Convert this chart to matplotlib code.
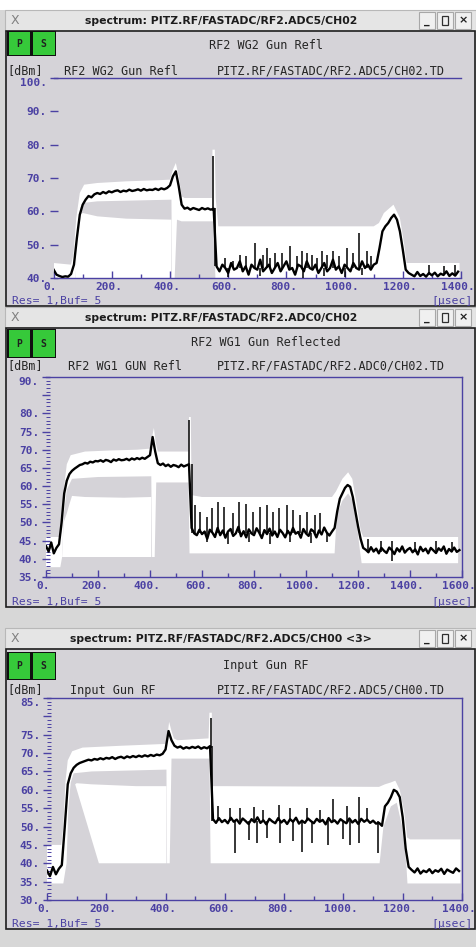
import numpy as np
import matplotlib.pyplot as plt
from matplotlib.patches import Rectangle
from matplotlib.transforms import ScaledTranslation

# ---------------- data ----------------
# black traces, one sample every 10 usec
p1_t = np.arange(0, 1400, 10)
p1_y = [42.5, 41.0, 40.6, 40.3, 40.5, 40.4, 41.2, 44.0, 52.0, 59.0,
        62.0, 63.5, 64.6, 64.2, 65.1, 65.5, 65.2, 65.8, 65.4, 66.0,
        65.7, 66.1, 66.3, 65.8, 66.2, 66.0, 66.5, 66.1, 66.3, 66.6,
        66.2, 66.7, 66.3, 66.5, 66.4, 66.8, 66.4, 66.9, 66.6, 67.0,
        67.8, 70.5, 72.0, 67.5, 62.0, 60.8, 61.1, 60.5, 61.0, 60.7,
        60.4, 61.0, 60.6, 60.9, 60.5, 60.8, 43.5, 42.0, 44.0, 43.0,
        41.5, 44.5, 42.5, 43.0, 45.0, 42.0, 43.5, 41.0, 44.0, 43.0,
        42.5, 45.5, 42.0, 43.0, 44.0, 41.5, 43.0, 44.5, 42.0, 43.5,
        45.0, 42.5, 43.0, 41.0, 44.0, 43.5, 42.0, 45.0, 43.0, 42.5,
        44.0, 41.5, 43.0, 44.5, 42.0, 43.0, 45.5, 42.5, 43.5, 41.5,
        44.0, 43.0, 42.0, 44.5, 43.0, 42.5, 45.0, 43.0, 44.0, 42.5,
        44.0, 44.5, 49.0, 54.0, 55.5, 56.5, 58.0, 59.0, 57.5, 54.0,
        48.5, 42.5, 41.5, 41.0, 40.5, 41.8, 40.6, 41.2, 40.4, 41.5,
        40.8, 41.6, 40.5, 41.3, 40.9, 42.0, 40.6, 41.4, 40.7, 41.9]

p2_t = np.arange(0, 1600, 10)
p2_y = [43.5, 42.0, 44.5, 41.5, 43.0, 44.0, 50.0, 58.0, 61.5, 63.3,
        64.2, 64.8, 65.3, 65.8, 66.0, 66.4, 66.2, 66.7, 66.5, 66.9,
        66.8, 67.1, 66.7, 67.2, 67.0, 66.6, 67.3, 67.0, 67.4, 67.1,
        67.2, 67.5, 67.1, 67.6, 67.3, 67.7, 67.4, 67.8, 67.5, 68.0,
        68.5, 73.5, 69.5, 66.3, 65.8, 66.2, 65.5, 65.9, 65.3, 65.8,
        65.6, 65.2, 65.9, 65.4, 65.7, 66.0, 48.5, 47.0, 46.5, 48.0,
        46.8, 47.5, 45.5, 48.0, 47.2, 46.0, 48.5, 46.5, 47.8, 45.8,
        47.5, 48.2, 46.3, 47.0, 48.8, 46.2, 47.6, 45.9, 48.1, 47.0,
        46.5, 48.4, 47.2, 45.7, 47.9, 46.8, 48.3, 46.4, 47.5, 46.0,
        48.0, 47.1, 45.9, 47.7, 46.6, 48.5, 46.9, 47.4, 45.8, 48.2,
        47.0, 46.3, 48.1, 47.5, 45.9, 47.8, 46.7, 48.6, 47.2, 46.4,
        47.5, 48.5, 53.0, 56.5, 58.0, 59.5, 60.3, 59.8, 57.0, 53.0,
        49.0, 45.5, 43.0, 42.5, 41.8, 43.2, 42.0, 42.8, 41.5, 43.0,
        42.2, 41.6, 43.1, 42.4, 41.3, 42.9, 42.0, 43.4, 41.7, 42.5,
        43.0, 41.8, 42.6, 41.2, 43.3, 42.1, 42.8, 41.5, 43.0, 42.3,
        41.6, 42.9, 42.2, 43.4, 41.4, 42.7, 42.0, 43.1, 41.9, 42.4]

p3_t = np.arange(0, 1400, 10)
p3_y = [38.0, 36.5, 39.0, 37.0, 38.5, 39.5, 50.0, 61.5, 64.5, 66.0,
        66.8, 67.3, 67.6, 67.9, 68.2, 68.0, 68.4, 68.2, 68.6, 68.3,
        68.7, 68.5, 68.9, 68.4, 68.8, 69.0, 68.6, 69.1, 68.8, 69.2,
        68.9, 69.3, 69.0, 69.4, 69.1, 69.5, 69.2, 69.6, 69.4, 69.8,
        71.0, 76.0, 73.5, 72.0, 71.5, 71.8, 71.2, 71.6, 71.3, 71.7,
        71.4, 71.8, 71.2, 71.6, 71.3, 71.9, 52.0, 51.0, 52.3, 51.2,
        51.8, 50.9, 52.4, 51.3, 51.9, 50.8, 52.2, 51.5, 50.7, 52.0,
        51.2, 52.5, 51.0, 51.7, 50.6, 52.1, 51.4, 50.9, 52.3, 51.1,
        51.8, 50.7, 52.0, 51.3, 52.4, 50.8, 51.6, 51.0, 52.2, 51.5,
        50.9, 52.1, 51.3, 51.8, 50.6, 52.3, 51.2, 51.7, 50.8, 52.0,
        51.4, 50.9, 52.2, 51.1, 51.8, 50.7, 52.1, 51.3, 51.9, 51.0,
        51.6, 50.8, 51.0, 50.2, 55.5, 56.5, 58.0, 60.0, 59.5, 58.0,
        52.5, 44.0, 39.0, 38.2, 37.5, 38.6, 37.2, 38.0, 37.6, 38.4,
        37.3, 38.1, 37.7, 38.5, 37.1, 38.3, 37.8, 37.4, 38.6, 37.9]

# single-sample spikes: time, low end, high end
p1_spk_t = [548, 556, 590, 600, 617, 640, 660, 692, 710, 720, 732, 745, 760, 785,
            812, 835, 852, 858, 870, 887, 905, 921, 930, 940, 961, 980, 1000, 1007,
            1030, 1051, 1060, 1076, 1090, 1290, 1340, 1380]
p1_spk_lo = [60.0, 43.5, 43.0, 40.3, 43.0, 43.0, 43.0, 43.0, 40.5, 43.0, 43.0, 43.0,
             43.0, 43.0, 43.0, 43.0, 43.0, 40.0, 43.0, 43.0, 43.0, 43.0, 40.5, 43.0,
             43.0, 43.0, 40.3, 43.0, 43.0, 43.0, 40.8, 43.0, 43.0, 41.0, 41.0, 41.0]
p1_spk_hi = [76.5, 61.0, 46.0, 43.0, 45.0, 47.0, 46.5, 50.4, 43.0, 47.0, 49.0, 46.0,
             47.5, 47.5, 49.5, 46.5, 48.0, 43.0, 47.5, 47.0, 46.0, 48.0, 43.0, 47.0,
             48.0, 46.5, 43.0, 49.0, 47.5, 53.4, 43.0, 48.0, 46.5, 44.0, 43.5, 44.0]

p2_spk_t = [551, 561, 573, 592, 618, 620, 637, 663, 685, 700, 721, 744, 769, 780,
            797, 823, 849, 860, 874, 897, 926, 940, 951, 977, 1003, 1020, 1035, 1054,
            1080, 1240, 1290, 1330, 1420, 1500, 1560]
p2_spk_lo = [65.5, 47.0, 47.0, 47.0, 47.0, 44.5, 47.0, 47.0, 47.0, 44.0, 47.0, 47.0,
             47.0, 44.5, 47.0, 47.0, 47.0, 44.2, 47.0, 47.0, 47.0, 44.5, 47.0, 47.0,
             47.0, 44.3, 47.0, 47.0, 44.6, 42.0, 42.0, 39.5, 42.0, 42.0, 42.0]
p2_spk_hi = [78.2, 66.0, 54.8, 52.9, 51.6, 47.0, 53.9, 55.7, 54.3, 47.0, 52.5, 55.7,
             55.2, 47.0, 53.0, 54.3, 54.8, 47.0, 53.0, 53.9, 54.8, 47.0, 53.4, 52.1,
             53.0, 47.0, 52.1, 52.5, 47.0, 45.5, 44.8, 45.0, 44.5, 45.0, 44.5]

p3_spk_t = [552, 557, 578, 618, 634, 652, 680, 697, 708, 730, 741, 781, 786, 820,
            831, 859, 876, 893, 921, 949, 966, 1000, 1011, 1023, 1051, 1079, 1118]
p3_spk_lo = [71.5, 51.5, 51.5, 51.5, 42.7, 51.5, 46.3, 51.5, 45.5, 51.5, 47.0, 51.5,
             45.5, 51.5, 46.0, 43.2, 51.5, 45.5, 51.5, 45.0, 51.5, 46.5, 51.5, 45.0,
             45.5, 51.5, 42.7]
p3_spk_hi = [79.5, 72.0, 55.6, 55.0, 51.5, 55.0, 51.5, 55.3, 51.5, 54.5, 51.5, 56.0,
             51.5, 55.0, 51.5, 51.5, 55.0, 51.5, 54.5, 51.5, 57.5, 51.5, 55.5, 51.5,
             58.0, 55.0, 51.5]

# white persistence area: upper and lower outline of each region
p1_a_up_t = [0, 60, 68, 78, 90, 105, 150, 250, 350, 400, 410, 420, 430, 440, 450, 544,
             546, 554, 557, 566, 1100, 1118, 1135, 1168, 1190, 1205, 1213, 1395]
p1_a_up_y = [44.5, 44, 47, 58, 65.5, 68, 68.5, 69, 69.3, 69.5, 72.5, 74.5, 70.5, 64.5,
             64, 64, 78.5, 78.5, 64, 55.5, 55.5, 56.5, 59.5, 62, 58, 50, 44.5, 44.5]
p1_a_lo_t = [0, 75, 92, 100, 150, 405, 407, 416, 424, 440, 550, 556, 1395]
p1_a_lo_y = [40, 40, 61, 62.5, 63, 63.5, 40, 40, 57.5, 57, 57, 40, 40]
p1_b_up_t = [75, 82, 90, 100, 150, 250, 405]
p1_b_up_y = [40, 52, 59, 59.5, 58.5, 57.8, 57.5]
p1_b_lo_t = [75, 405]
p1_b_lo_y = [40, 40]

p2_a_up_t = [0, 55, 62, 70, 80, 95, 150, 250, 350, 400, 408, 415, 422, 430, 548, 550,
             557, 560, 600, 1100, 1115, 1140, 1162, 1178, 1195, 1210, 1220, 1585]
p2_a_up_y = [46, 46, 48, 60, 66, 68.5, 69.5, 69.8, 70, 70.3, 73.5, 76, 72, 69.5, 69.5,
             79, 79, 57.5, 57, 57, 58.5, 62, 63.8, 62, 55, 48, 46, 46]
p2_a_lo_t = [0, 55, 62, 68, 80, 100, 200, 405, 408, 418, 424, 548, 552, 1110, 1118,
             1140, 1162, 1180, 1198, 1208, 1214, 1585]
p2_a_lo_y = [37.7, 37.7, 40.5, 52, 59, 62, 62.5, 62.7, 40.5, 40.5, 61, 61, 41.5, 41.5,
             52, 56, 58, 56, 48, 42, 38.8, 38.8]
p2_b_up_t = [62, 68, 80, 90, 100, 150, 300, 405]
p2_b_up_y = [40.5, 50, 52.5, 55, 57.3, 57, 56.8, 57]
p2_b_lo_t = [62, 405]
p2_b_lo_y = [40.5, 40.5]

p3_a_up_t = [0, 48, 55, 62, 70, 85, 120, 250, 400, 405, 412, 420, 428, 440, 545, 548,
             556, 559, 600, 1120, 1140, 1160, 1175, 1190, 1205, 1215, 1225, 1395]
p3_a_up_y = [45, 45, 50, 62, 68, 70.5, 71.5, 72, 72.5, 74, 78.5, 76, 74, 73.5, 74, 81,
             81, 61, 61, 60.8, 61.5, 62, 62.5, 60, 54, 47, 46.5, 46.5]
p3_a_lo_t = [0, 55, 66, 72, 80, 90, 150, 400, 403, 405, 414, 420, 548, 552, 1122, 1135,
             1160, 1180, 1198, 1212, 1216, 1395]
p3_a_lo_y = [34.5, 34.5, 40, 55, 62, 64.5, 65, 65.5, 65.5, 40, 40, 68.5, 68.5, 40, 40,
             50, 55.5, 56.5, 50, 40, 34.5, 34.5]
p3_b_up_t = [95, 100, 150, 300, 403]
p3_b_up_y = [61.5, 61.8, 61.5, 61, 61]
p3_b_lo_t = [95, 175, 403]
p3_b_lo_y = [61.5, 40, 40]

# ---------------- drawing ----------------
W, H = 476, 947
BG = '#d5d3d8'
INK = '#4b41a3'
MONO = 'DejaVu Sans Mono'

fig = plt.figure(figsize=(W / 100, H / 100), dpi=100)
fig.patch.set_facecolor('#d7d7d7')
bg = fig.add_axes([0, 0, 1, 1])
bg.set_xlim(0, W)
bg.set_ylim(H, 0)
bg.axis('off')
bg.add_patch(Rectangle((0, 0), W, 10, fc='white', lw=0))


def window(top, bottom, btn, sub_y, head_y, foot_y, title, sub, name, name_x, addr):
    # title bar with the usual X icon and three buttons
    bg.add_patch(Rectangle((5, top), 471, 21, fc='#e5e5e5', ec='#b8b8b8', lw=0.8))
    bg.text(15, top + 10.5, 'X', ha='center', va='center', fontsize=9,
            color='#808080', family='DejaVu Sans')
    bg.text(221, top + 10.5, title, ha='center', va='center', fontsize=7.8,
            fontweight='bold', color='#1c1c1c', family='DejaVu Sans')
    for i, s in enumerate(['_', '', '×']):
        x0 = 419 + i * 18
        bg.add_patch(Rectangle((x0, top + 2), 16, 17, fc='#f0f0f0', ec='#a8a8a8', lw=0.8))
        if s:
            bg.text(x0 + 8, top + 10.5, s, ha='center', va='center', fontsize=8,
                    fontweight='bold', color='#202020')
        else:
            bg.add_patch(Rectangle((x0 + 5, top + 6), 6, 9, fc='none', ec='#303030', lw=0.9))
    # client area
    bg.add_patch(Rectangle((6, top + 21), 469, bottom - top - 21, fc=BG, ec='#1e1e1e', lw=1.2))
    # P / S buttons
    bg.add_patch(Rectangle((7, btn[0] - 1), 49, btn[1] - btn[0] + 2, fc='#101010', lw=0))
    for x0, w, s in [(8.5, 21.5, 'P'), (32.5, 22, 'S')]:
        bg.add_patch(Rectangle((x0, btn[0]), w, btn[1] - btn[0], fc='#36c93a', lw=0))
        bg.text(x0 + w / 2, (btn[0] + btn[1]) / 2, s, ha='center', va='center',
                fontsize=7, color='#202020', family=MONO, fontweight='bold')
    txt = dict(va='center', fontsize=8.5, family=MONO, color='#262626')
    bg.text(266, sub_y, sub, ha='center', **txt)
    bg.text(7, head_y, '[dBm]', ha='left', **txt)
    bg.text(name_x, head_y, name, ha='left', **txt)
    bg.text(217, head_y, addr, ha='left', **txt)
    bg.text(12, foot_y, 'Res= 1,Buf= 5', ha='left', va='center', fontsize=8.2,
            family=MONO, color=INK)
    bg.text(473, foot_y, '[μsec]', ha='right', va='center', fontsize=8.2,
            family=MONO, color=INK)


def panel(left, top, right, bottom, xmax, ylo, yhi, ystep, skip, minor, right_spine):
    ax = fig.add_axes([left / W, 1 - bottom / H, (right - left) / W, (bottom - top) / H])
    ax.set_facecolor('none')
    ax.set_xlim(0, xmax)
    ax.set_ylim(ylo, yhi)
    xt = np.arange(0, xmax + 1, 200)
    ax.set_xticks(xt)
    ax.set_xticklabels([f'{v}.' for v in xt])
    ax.set_xticks(np.arange(100, xmax, 200), minor=True)
    yt = np.arange(ylo, yhi + 1, ystep)
    ax.set_yticks(yt)
    ax.set_yticklabels(['' if v == skip else f'{v}.' for v in yt])
    if minor:
        ax.set_yticks(np.arange(ylo, yhi + 1, 1), minor=True)
    ax.tick_params(axis='x', which='major', direction='in', length=5, width=1,
                   color=INK, labelcolor=INK, pad=3)
    ax.tick_params(axis='x', which='minor', direction='in', length=3, width=1, color=INK)
    ax.tick_params(axis='y', which='major', direction='inout', length=6, width=1,
                   color=INK, labelcolor=INK, pad=2)
    ax.tick_params(axis='y', which='minor', direction='in', length=3, width=0.7, color=INK)
    shift = ScaledTranslation(-3 / 100, 0, fig.dpi_scale_trans)
    for lab in ax.get_xticklabels():
        lab.set_transform(lab.get_transform() + shift)
    for lab in ax.get_xticklabels() + ax.get_yticklabels():
        lab.set_family(MONO)
        lab.set_fontweight('bold')
        lab.set_fontsize(8)
    ax.get_yticklabels()[-1].set_verticalalignment('top')
    for side in ['top', 'bottom', 'right', 'left']:
        ax.spines[side].set_color(INK)
        ax.spines[side].set_linewidth(1)
    ax.spines['left'].set_visible(False)
    ax.spines['right'].set_visible(right_spine)
    return ax


def white(ax, up_t, up_y, lo_t, lo_y):
    ax.fill(np.r_[up_t, lo_t[::-1]], np.r_[up_y, lo_y[::-1]], color='white', lw=0, zorder=1)


def trace(ax, t, y, st, slo, shi):
    ax.plot(t, y, color='black', lw=1.7, zorder=3)
    ax.vlines(st, slo, shi, color='black', lw=1.1, zorder=3)


window(10, 306, (32, 55), 45, 71, 301, 'spectrum: PITZ.RF/FASTADC/RF2.ADC5/CH02',
       'RF2 WG2 Gun Refl', 'RF2 WG2 Gun Refl', 64, 'PITZ.RF/FASTADC/RF2.ADC5/CH02.TD')
window(307, 607, (330, 357), 342, 366, 602, 'spectrum: PITZ.RF/FASTADC/RF2.ADC0/CH02',
       'RF2 WG1 Gun Reflected', 'RF2 WG1 GUN Refl', 68, 'PITZ.RF/FASTADC/RF2.ADC0/CH02.TD')
window(628, 929, (653, 679), 665, 690, 924, 'spectrum: PITZ.RF/FASTADC/RF2.ADC5/CH00 <3>',
       'Input Gun RF', 'Input Gun RF', 70, 'PITZ.RF/FASTADC/RF2.ADC5/CH00.TD')

ax1 = panel(53.6, 78, 461, 278, 1400, 40, 100, 10, None, False, False)
white(ax1, p1_a_up_t, p1_a_up_y, p1_a_lo_t, p1_a_lo_y)
white(ax1, p1_b_up_t, p1_b_up_y, p1_b_lo_t, p1_b_lo_y)
trace(ax1, p1_t, p1_y, p1_spk_t, p1_spk_lo, p1_spk_hi)

ax2 = panel(46, 377, 462, 577, 1600, 35, 90, 5, 85, True, True)
white(ax2, p2_a_up_t, p2_a_up_y, p2_a_lo_t, p2_a_lo_y)
white(ax2, p2_b_up_t, p2_b_up_y, p2_b_lo_t, p2_b_lo_y)
trace(ax2, p2_t, p2_y, p2_spk_t, p2_spk_lo, p2_spk_hi)

ax3 = panel(47, 698, 462, 900, 1400, 30, 85, 5, 80, True, True)
white(ax3, p3_a_up_t, p3_a_up_y, p3_a_lo_t, p3_a_lo_y)
white(ax3, p3_b_up_t, p3_b_up_y, p3_b_lo_t, p3_b_lo_y)
trace(ax3, p3_t, p3_y, p3_spk_t, p3_spk_lo, p3_spk_hi)

fig.savefig('out.png', dpi=100, facecolor=fig.get_facecolor())
